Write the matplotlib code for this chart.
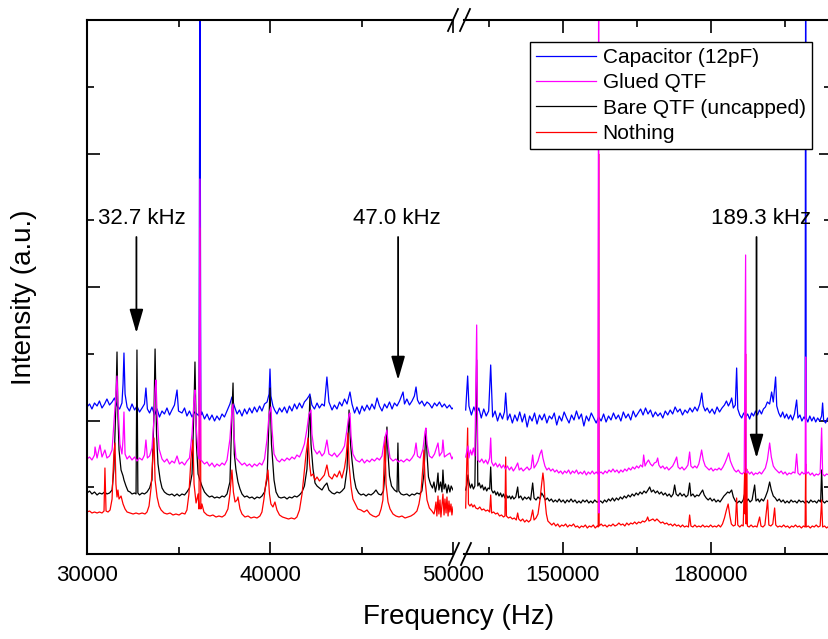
import numpy as np
import matplotlib
matplotlib.use("Agg")
import matplotlib.pyplot as plt
from matplotlib.ticker import MultipleLocator, StrMethodFormatter
from matplotlib.lines import Line2D

plt.rcParams['font.family'] = ['Liberation Sans', 'DejaVu Sans']

# spectra: (frequency in kHz, intensity in a.u.)
# left segment 30-50 kHz
cap_left = [(30.00,147),(30.14,150),(30.27,145),(30.41,151),(30.55,148),(30.68,153),(30.82,146),(30.96,150),
    (31.09,155),(31.23,149),(31.37,152),(31.50,156),(31.64,148),(31.78,145),(31.91,151),(31.97,170),(32.02,201),
    (32.08,160),(32.19,147),(32.32,143),(32.46,150),(32.60,144),(32.73,148),(32.87,142),(33.01,146),(33.14,150),
    (33.22,166),(33.30,145),(33.42,141),(33.55,147),(33.69,139),(33.83,145),(33.96,137),(34.10,143),(34.23,140),
    (34.37,146),(34.51,139),(34.64,144),(34.78,149),(34.92,164),(35.00,143),(35.19,141),(35.33,146),(35.46,138),
    (35.60,143),(35.74,137),(35.88,142),(36.01,140),(36.12,138),(36.17,600),(36.22,139),(36.28,142),(36.42,135),
    (36.56,140),(36.69,134),(36.83,139),(36.97,133),(37.10,138),(37.24,134),(37.38,140),(37.51,137),(37.65,143),
    (37.81,150),(37.92,157),(38.03,149),(38.20,140),(38.33,144),(38.47,138),(38.61,145),(38.74,140),(38.88,146),
    (39.02,141),(39.15,147),(39.29,142),(39.43,148),(39.56,143),(39.70,150),(39.84,152),(39.95,160),(40.00,185),
    (40.05,158),(40.16,148),(40.25,144),(40.38,140),(40.52,146),(40.65,142),(40.79,147),(40.93,141),(41.06,148),
    (41.20,143),(41.34,150),(41.47,145),(41.61,151),(41.75,146),(41.88,152),(42.02,155),(42.13,158),(42.18,160),
    (42.29,149),(42.43,145),(42.57,151),(42.70,146),(42.84,150),(42.97,148),(43.11,177),(43.22,152),(43.39,144),
    (43.52,149),(43.66,145),(43.80,152),(43.93,148),(44.07,155),(44.21,150),(44.32,158),(44.37,162),(44.48,150),
    (44.62,141),(44.75,147),(44.89,140),(45.03,148),(45.16,143),(45.30,149),(45.44,144),(45.57,150),(45.71,145),
    (45.85,156),(45.98,148),(46.12,143),(46.26,150),(46.39,146),(46.53,152),(46.67,145),(46.80,151),(46.94,148),
    (47.08,153),(47.27,162),(47.35,150),(47.48,155),(47.62,149),(47.76,153),(47.89,158),(47.98,167),(48.06,154),
    (48.17,150),(48.30,153),(48.44,148),(48.58,152),(48.71,150),(48.85,146),(48.99,151),(49.12,148),(49.26,152),
    (49.40,147),(49.53,150),(49.67,146),(49.81,149),(49.94,145),(50.00,146)]

glued_left = [(30.00,95),(30.14,97),(30.27,94),(30.41,99),(30.44,107),(30.55,96),(30.71,109),(30.82,97),(30.98,104),
    (31.09,96),(31.23,98),(31.37,104),(31.47,130),(31.58,160),(31.64,178),(31.69,150),(31.80,110),(31.91,100),
    (31.97,115),(32.02,142),(32.08,100),(32.19,95),(32.32,98),(32.46,94),(32.60,97),(32.73,93),(32.87,96),(33.01,94),
    (33.14,99),(33.22,114),(33.30,96),(33.42,98),(33.55,106),(33.66,135),(33.72,165),(33.77,174),(33.83,140),
    (33.94,105),(34.10,95),(34.23,92),(34.37,95),(34.51,90),(34.64,93),(34.78,91),(34.92,98),(35.05,90),(35.19,92),
    (35.33,89),(35.46,93),(35.60,96),(35.74,120),(35.85,155),(35.90,164),(35.96,130),(36.07,100),(36.12,95),
    (36.17,375),(36.22,94),(36.28,93),(36.42,90),(36.56,92),(36.69,88),(36.83,91),(36.97,87),(37.10,90),(37.24,88),
    (37.38,91),(37.51,89),(37.65,94),(37.81,115),(37.92,145),(37.98,150),(38.03,120),(38.14,96),(38.33,92),
    (38.47,89),(38.61,91),(38.74,88),(38.88,90),(39.02,87),(39.15,90),(39.29,88),(39.43,91),(39.56,89),(39.70,95),
    (39.84,115),(39.95,140),(40.05,147),(40.11,125),(40.22,100),(40.38,94),(40.52,92),(40.65,95),(40.79,93),
    (40.93,96),(41.06,94),(41.20,97),(41.34,95),(41.47,99),(41.61,97),(41.75,103),(41.88,110),(42.02,125),
    (42.13,140),(42.24,144),(42.29,120),(42.40,105),(42.57,100),(42.70,103),(42.84,98),(42.97,101),(43.11,114),
    (43.22,100),(43.39,98),(43.52,101),(43.66,97),(43.80,100),(43.93,103),(44.07,108),(44.21,125),(44.32,140),
    (44.37,141),(44.43,118),(44.53,100),(44.70,94),(44.89,92),(45.03,95),(45.16,91),(45.30,94),(45.44,92),
    (45.57,95),(45.71,93),(45.85,96),(45.98,94),(46.12,98),(46.26,115),(46.39,124),(46.45,110),(46.56,96),
    (46.72,93),(46.88,95),(47.02,92),(47.16,94),(47.30,92),(47.48,95),(47.62,93),(47.76,96),(47.89,100),
    (47.98,111),(48.06,98),(48.20,96),(48.36,105),(48.47,122),(48.52,126),(48.58,110),(48.71,98),(48.85,96),
    (48.99,100),(49.18,111),(49.26,98),(49.40,102),(49.45,114),(49.53,97),(49.67,99),(49.83,101),(49.94,95),
    (50.00,97)]

bare_left = [(30.00,61),(30.14,63),(30.27,60),(30.41,62),(30.55,59),(30.68,61),(30.82,60),(30.96,62),(31.09,60),
    (31.23,61),(31.37,64),(31.47,85),(31.58,150),(31.64,202),(31.69,140),(31.75,104),(31.86,84),(31.97,78),
    (32.02,74),(32.13,68),(32.24,63),(32.35,62),(32.46,60),(32.60,61),(32.68,60),(32.73,204),(32.78,61),(32.87,59),
    (33.01,61),(33.14,60),(33.28,62),(33.42,66),(33.55,74),(33.66,140),(33.72,205),(33.80,120),(33.88,90),
    (34.00,74),(34.10,66),(34.23,62),(34.37,60),(34.51,59),(34.64,60),(34.78,58),(34.92,60),(35.05,58),(35.19,60),
    (35.33,59),(35.46,62),(35.60,66),(35.74,80),(35.85,150),(35.90,192),(35.98,110),(36.07,80),(36.17,74),
    (36.28,68),(36.42,62),(36.56,59),(36.69,57),(36.83,58),(36.97,56),(37.10,57),(37.24,56),(37.38,58),(37.51,57),
    (37.65,60),(37.81,72),(37.92,140),(37.98,171),(38.05,100),(38.14,84),(38.25,72),(38.36,65),(38.47,60),
    (38.61,57),(38.74,58),(38.88,56),(39.02,57),(39.15,55),(39.29,57),(39.43,56),(39.56,58),(39.70,62),(39.84,75),
    (39.95,140),(40.00,166),(40.08,110),(40.22,74),(40.33,62),(40.47,57),(40.60,56),(40.79,57),(40.93,55),
    (41.06,57),(41.20,56),(41.34,58),(41.47,57),(41.61,59),(41.75,62),(41.88,68),(42.02,85),(42.13,130),
    (42.18,157),(42.24,110),(42.35,85),(42.46,71),(42.57,68),(42.70,66),(42.84,64),(42.97,68),(43.11,71),
    (43.22,64),(43.39,61),(43.52,60),(43.66,62),(43.80,61),(43.93,63),(44.07,66),(44.21,85),(44.32,144),
    (44.40,110),(44.48,94),(44.59,76),(44.70,66),(44.84,61),(44.97,59),(45.11,60),(45.25,58),(45.38,60),
    (45.52,59),(45.66,61),(45.79,64),(45.93,60),(46.07,59),(46.20,63),(46.28,80),(46.39,127),(46.45,100),
    (46.53,78),(46.64,68),(46.80,64),(46.94,62),(46.99,111),(47.04,63),(47.16,60),(47.30,59),(47.48,60),
    (47.62,58),(47.76,60),(47.89,59),(48.03,61),(48.17,60),(48.30,63),(48.41,80),(48.52,124),(48.58,100),
    (48.66,77),(48.77,70),(48.88,66),(48.96,72),(49.04,62),(49.12,70),(49.18,81),(49.23,64),(49.32,72),
    (49.40,62),(49.45,84),(49.51,65),(49.59,70),(49.67,61),(49.75,69),(49.83,62),(49.90,68),(50.00,64)]

nothing_left = [(30.00,42),(30.14,43),(30.27,41),(30.41,42),(30.55,41),(30.68,42),(30.82,41),(30.93,43),
    (30.98,86),(31.04,43),(31.15,42),(31.26,44),(31.37,55),(31.42,80),(31.47,100),(31.53,111),(31.58,70),
    (31.64,57),(31.69,64),(31.75,55),(31.86,58),(31.97,50),(32.08,45),(32.19,42),(32.35,41),(32.52,40),
    (32.68,41),(32.84,40),(33.01,41),(33.17,40),(33.28,42),(33.39,48),(33.50,66),(33.61,100),(33.66,116),
    (33.72,74),(33.83,57),(33.94,48),(34.05,44),(34.21,41),(34.37,40),(34.54,41),(34.70,39),(34.86,40),
    (35.03,39),(35.19,41),(35.35,40),(35.46,44),(35.57,60),(35.68,95),(35.79,114),(35.85,70),(35.96,51),
    (36.07,60),(36.12,45),(36.17,326),(36.22,45),(36.28,50),(36.39,42),(36.56,39),(36.72,38),(36.88,39),
    (37.05,37),(37.21,38),(37.38,37),(37.54,39),(37.70,45),(37.81,60),(37.92,84),(38.00,62),(38.09,52),
    (38.20,54),(38.25,57),(38.36,45),(38.47,40),(38.63,37),(38.80,38),(38.96,36),(39.13,37),(39.29,36),
    (39.45,38),(39.56,42),(39.67,55),(39.78,72),(39.89,84),(39.97,60),(40.05,50),(40.16,47),(40.27,52),
    (40.38,44),(40.52,39),(40.68,37),(40.85,36),(41.01,35),(41.17,36),(41.34,35),(41.47,37),(41.61,44),
    (41.75,60),(41.86,80),(41.97,100),(42.08,116),(42.16,90),(42.24,78),(42.35,80),(42.46,74),(42.57,77),
    (42.70,73),(42.84,76),(42.97,79),(43.11,89),(43.22,78),(43.39,75),(43.52,80),(43.66,77),(43.80,83),
    (43.93,76),(44.07,86),(44.16,97),(44.26,121),(44.32,90),(44.43,67),(44.53,55),(44.64,51),(44.80,45),
    (44.97,44),(45.14,42),(45.30,44),(45.46,40),(45.63,38),(45.79,37),(45.96,39),(46.07,45),(46.17,54),
    (46.23,90),(46.28,117),(46.34,70),(46.45,52),(46.56,45),(46.72,40),(46.88,38),(47.05,37),(47.21,38),
    (47.38,36),(47.54,37),(47.70,38),(47.87,40),(48.03,43),(48.14,50),(48.25,62),(48.36,88),(48.41,104),
    (48.47,75),(48.58,54),(48.71,46),(48.85,43),(48.96,40),(49.01,44),(49.07,52),(49.12,38),(49.18,58),
    (49.23,40),(49.29,54),(49.34,37),(49.40,50),(49.45,60),(49.51,39),(49.56,55),(49.62,41),(49.67,57),
    (49.73,38),(49.78,53),(49.83,42),(49.89,50),(49.94,39),(50.00,47)]

# right segment 130-204 kHz
cap_right = [(130.34,144),(130.74,178),(131.0,148),(131.5,139),(132.0,147),(132.5,140),(133.0,146),(133.5,136),
    (134.0,145),(134.5,138),(135.0,143),(135.41,189),(135.8,137),(136.3,143),(136.8,133),(137.3,141),(137.8,135),
    (138.2,142),(138.45,161),(138.8,134),(139.3,140),(139.8,131),(140.3,139),(140.8,133),(141.3,142),(141.8,132),
    (142.3,140),(142.8,127),(143.3,138),(143.8,133),(144.3,141),(144.8,130),(145.3,139),(145.8,134),(146.3,140),
    (146.8,131),(147.3,138),(147.8,135),(148.3,141),(148.8,129),(149.3,138),(149.8,133),(150.3,142),(150.8,136),
    (151.3,131),(151.8,139),(152.3,134),(152.8,143),(153.3,135),(153.8,140),(154.3,128),(154.8,138),(155.3,133),
    (155.8,141),(156.3,136),(156.8,131),(157.3,137),(157.8,133),(158.3,140),(158.8,132),(159.3,138),(159.8,134),
    (160.3,141),(160.8,135),(161.3,139),(161.8,133),(162.3,142),(162.8,136),(163.3,140),(163.8,134),(164.3,143),
    (164.8,137),(165.3,141),(165.8,145),(166.3,139),(166.8,146),(167.3,140),(167.8,144),(168.3,137),(168.8,142),
    (169.3,138),(169.8,141),(170.3,136),(170.8,143),(171.3,139),(171.8,144),(172.3,140),(172.8,147),(173.3,142),
    (173.8,145),(174.3,139),(174.8,144),(175.3,141),(175.8,146),(176.3,142),(176.8,147),(177.3,143),(177.8,150),
    (178.2,161),(178.5,148),(178.9,143),(179.3,146),(179.8,141),(180.3,145),(180.8,140),(181.3,147),(181.8,142),
    (182.3,146),(182.8,149),(183.2,153),(183.6,148),(184.0,152),(184.26,156),(184.6,146),(185.0,149),(185.27,186),
    (185.5,145),(185.9,139),(186.3,136),(186.7,141),(187.1,137),(187.5,140),(187.9,135),(188.3,141),(188.7,138),
    (189.1,143),(189.5,139),(189.9,144),(190.3,140),(190.7,145),(191.1,147),(191.5,152),(191.96,150),(192.36,162),
    (192.7,152),(193.17,177),(193.4,148),(193.8,141),(194.2,137),(194.6,142),(195.0,136),(195.4,140),(195.8,135),
    (196.2,139),(196.6,134),(197.0,140),(197.43,154),(197.7,136),(198.1,139),(198.5,133),(198.9,137),(199.15,135),
    (199.26,600),(199.37,136),(199.7,132),(200.1,138),(200.5,133),(200.9,137),(201.3,132),(201.7,136),(202.1,133),
    (202.5,138),(202.70,151),(202.9,134),(203.3,131),(203.7,136),(204.0,133)]

glued_right = [(130.34,97),(130.6,103),(130.8,108),(131.0,96),(131.3,104),(131.6,99),(131.9,106),(132.2,98),
    (132.57,229),(132.8,94),(133.2,92),(133.6,95),(134.0,91),(134.4,94),(134.8,90),(135.2,96),(135.41,116),
    (135.6,92),(136.0,88),(136.4,91),(136.8,87),(137.2,90),(137.6,86),(138.0,89),(138.4,85),(138.8,88),(139.2,84),
    (139.6,87),(140.0,83),(140.4,86),(140.88,91),(141.2,84),(141.6,86),(142.0,83),(142.4,85),(142.8,87),(143.2,84),
    (143.6,86),(143.92,99),(144.2,86),(144.6,89),(145.0,93),(145.4,100),(145.74,104),(146.0,96),(146.4,88),
    (146.8,84),(147.2,86),(147.6,83),(148.0,85),(148.4,82),(148.8,84),(149.2,81),(149.6,83),(150.0,80),(150.4,83),
    (150.8,81),(151.2,84),(151.6,80),(152.0,83),(152.4,81),(152.8,84),(153.2,80),(153.6,82),(154.0,80),(154.4,83),
    (154.8,79),(155.2,82),(155.6,80),(156.0,83),(156.4,80),(156.8,82),(157.15,80),(157.30,600),(157.35,41),
    (157.45,81),(157.8,82),(158.2,80),(158.6,83),(159.0,81),(159.4,84),(159.8,82),(160.2,85),(160.6,82),(161.0,84),
    (161.4,81),(161.8,84),(162.2,82),(162.6,85),(163.0,83),(163.4,86),(163.8,84),(164.2,87),(164.6,85),(165.0,88),
    (165.4,86),(165.8,89),(166.2,87),(166.42,99),(166.7,88),(167.0,91),(167.4,94),(167.8,90),(168.2,88),(168.6,91),
    (169.0,92),(169.26,96),(169.5,89),(169.9,86),(170.3,88),(170.7,85),(171.1,87),(171.5,84),(171.9,86),(172.3,88),
    (172.7,92),(173.11,97),(173.4,87),(173.8,85),(174.2,87),(174.6,84),(175.0,86),(175.4,89),(175.74,102),
    (176.0,88),(176.4,86),(176.8,88),(177.2,86),(177.6,90),(177.9,97),(178.17,104),(178.5,94),(178.9,88),
    (179.3,86),(179.7,84),(180.1,86),(180.5,83),(180.9,85),(181.3,84),(181.7,86),(182.1,84),(182.5,87),(182.9,91),
    (183.3,96),(183.65,101),(184.0,93),(184.4,88),(184.8,84),(185.2,82),(185.6,84),(186.0,81),(186.4,80),
    (186.8,82),(187.09,299),(187.2,81),(187.5,83),(187.9,80),(188.3,82),(188.7,79),(189.1,81),(189.5,80),
    (189.9,82),(190.3,80),(190.7,83),(191.1,86),(191.5,94),(191.96,111),(192.3,97),(192.7,88),(193.1,85),
    (193.5,83),(193.9,81),(194.3,83),(194.7,80),(195.1,82),(195.5,79),(195.9,81),(196.3,80),(196.7,82),(197.1,81),
    (197.43,100),(197.7,81),(198.1,79),(198.5,82),(198.9,80),(199.15,81),(199.26,197),(199.37,80),(199.8,82),
    (200.2,79),(200.6,81),(201.0,78),(201.4,80),(201.8,79),(202.2,81),(202.50,126),(202.7,80),(203.1,78),
    (203.5,80),(204.0,79)]

bare_right = [(130.34,64),(130.6,70),(130.8,79),(131.0,72),(131.3,66),(131.6,70),(131.9,65),(132.2,68),
    (132.57,194),(132.8,68),(133.1,71),(133.4,66),(133.7,69),(134.0,64),(134.3,67),(134.6,63),(134.9,66),
    (135.2,65),(135.41,87),(135.6,64),(135.9,61),(136.2,63),(136.5,59),(136.8,62),(137.1,58),(137.4,61),
    (137.7,57),(138.0,60),(138.3,56),(138.6,59),(138.9,56),(139.2,58),(139.5,55),(139.8,58),(140.1,55),
    (140.5,57),(140.88,67),(141.1,56),(141.5,58),(141.9,54),(142.3,57),(142.7,55),(143.1,57),(143.5,54),
    (143.92,71),(144.2,56),(144.6,54),(145.0,57),(145.4,55),(145.74,61),(146.1,58),(146.5,54),(146.9,56),
    (147.3,53),(147.7,55),(148.1,52),(148.5,54),(148.9,52),(149.3,55),(149.7,52),(150.1,54),(150.5,51),
    (150.9,54),(151.3,52),(151.7,55),(152.1,52),(152.5,54),(152.9,51),(153.3,53),(153.7,51),(154.1,54),
    (154.5,52),(154.9,54),(155.3,51),(155.7,53),(156.1,51),(156.5,54),(156.9,52),(157.3,52),(157.7,53),
    (158.1,51),(158.5,54),(158.9,52),(159.3,55),(159.7,53),(160.1,56),(160.5,53),(160.9,56),(161.3,54),
    (161.7,57),(162.1,55),(162.5,58),(162.9,56),(163.3,59),(163.7,57),(164.1,60),(164.5,58),(164.9,61),
    (165.3,59),(165.7,62),(166.1,60),(166.5,63),(166.9,61),(167.3,64),(167.64,67),(168.0,62),(168.4,64),
    (168.8,61),(169.2,63),(169.6,60),(170.0,62),(170.4,59),(170.8,61),(171.2,58),(171.6,60),(172.0,57),
    (172.4,60),(172.70,69),(173.0,60),(173.4,58),(173.8,61),(174.2,58),(174.6,60),(175.0,57),(175.4,59),
    (175.74,71),(176.0,58),(176.4,60),(176.8,57),(177.2,59),(177.6,58),(178.0,61),(178.38,64),(178.7,59),
    (179.1,56),(179.5,54),(179.9,56),(180.3,53),(180.7,55),(181.1,52),(181.5,54),(181.9,52),(182.3,55),
    (182.7,58),(183.1,60),(183.45,62),(183.8,61),(184.26,64),(184.6,57),(185.0,53),(185.4,51),(185.8,53),
    (186.2,51),(186.6,54),(186.89,60),(187.2,52),(187.6,55),(188.0,52),(188.4,54),(188.92,69),(189.2,53),
    (189.6,55),(189.9,52),(190.3,55),(190.7,53),(191.1,57),(191.55,63),(191.96,72),(192.3,64),(192.7,58),
    (193.1,56),(193.5,53),(193.9,55),(194.3,52),(194.7,54),(195.1,51),(195.5,53),(195.9,51),(196.3,54),
    (196.7,52),(197.1,53),(197.5,51),(197.9,54),(198.3,52),(198.7,53),(199.1,51),(199.5,53),(199.9,51),
    (200.3,54),(200.7,52),(201.1,53),(201.5,51),(201.9,54),(202.3,52),(202.50,84),(202.7,53),(203.1,51),
    (203.5,53),(204.0,52)]

nothing_right = [(130.34,46),(130.74,126),(130.9,50),(131.2,48),(131.5,50),(131.8,47),(132.1,49),(132.4,46),
    (132.8,45),(133.2,47),(133.6,44),(134.0,45),(134.4,43),(134.8,44),(135.2,42),(135.41,59),(135.6,41),
    (136.0,42),(136.4,40),(136.8,41),(137.2,38),(137.6,39),(138.0,37),(138.3,38),(138.45,97),(138.6,38),
    (139.0,36),(139.4,37),(139.8,35),(140.2,36),(140.6,34),(140.88,41),(141.1,35),(141.5,33),(141.9,35),
    (142.3,32),(142.7,34),(143.1,32),(143.5,34),(143.92,44),(144.2,34),(144.6,36),(145.0,40),(145.4,54),
    (145.74,70),(146.0,81),(146.2,72),(146.4,55),(146.7,40),(147.0,33),(147.4,31),(147.8,29),(148.2,31),
    (148.6,28),(149.0,30),(149.4,27),(149.8,29),(150.2,28),(150.6,30),(151.0,27),(151.4,29),(151.8,28),
    (152.2,30),(152.6,27),(153.0,28),(153.4,26),(153.8,28),(154.2,27),(154.6,29),(155.0,26),(155.4,28),
    (155.8,27),(156.2,29),(156.6,26),(157.0,28),(157.2,27),(157.30,400),(157.4,28),(157.8,30),(158.2,28),
    (158.6,29),(159.0,27),(159.4,29),(159.8,28),(160.2,30),(160.6,28),(161.0,29),(161.4,31),(161.8,29),
    (162.2,30),(162.6,28),(163.0,31),(163.4,29),(163.8,31),(164.2,30),(164.6,32),(165.0,30),(165.4,32),
    (165.8,31),(166.2,33),(166.6,32),(167.0,34),(167.23,37),(167.5,33),(167.9,34),(168.3,35),(168.7,33),
    (169.1,35),(169.5,33),(169.9,31),(170.3,32),(170.7,30),(171.1,31),(171.5,29),(171.9,30),(172.3,28),
    (172.7,30),(173.1,28),(173.5,29),(173.9,27),(174.3,29),(174.7,27),(175.1,28),(175.5,27),(175.74,39),
    (176.0,28),(176.4,27),(176.8,29),(177.2,27),(177.6,28),(178.0,27),(178.4,29),(178.8,27),(179.2,28),
    (179.6,27),(180.0,29),(180.4,27),(180.8,28),(181.2,27),(181.6,29),(182.0,27),(182.4,30),(182.8,36),
    (183.2,44),(183.55,50),(183.9,38),(184.2,30),(184.6,28),(185.0,29),(185.27,56),(185.5,29),(185.9,27),
    (186.3,29),(186.6,28),(186.89,81),(187.0,40),(187.09,200),(187.2,30),(187.30,85),(187.45,28),(187.8,27),
    (188.2,29),(188.6,27),(189.0,28),(189.4,27),(189.93,37),(190.2,28),(190.6,27),(191.0,29),(191.55,54),
    (191.8,29),(192.2,28),(192.6,30),(192.97,46),(193.2,29),(193.6,27),(194.0,28),(194.4,27),(194.8,29),
    (195.2,27),(195.6,28),(196.0,26),(196.4,28),(196.8,27),(197.2,29),(197.6,27),(198.0,28),(198.4,26),
    (198.8,28),(199.15,27),(199.26,90),(199.37,27),(199.8,28),(200.2,26),(200.6,28),(201.0,27),(201.4,29),
    (201.8,27),(202.2,28),(202.50,54),(202.7,27),(203.1,28),(203.5,26),(204.0,28)]

labels = ['Capacitor (12pF)', 'Glued QTF', 'Bare QTF (uncapped)', 'Nothing']
colors = ['#0000ff', '#ff00ff', '#000000', '#ff0000']
left_data = [cap_left, glued_left, bare_left, nothing_left]
right_data = [cap_right, glued_right, bare_right, nothing_right]
draw_order = [0, 2, 3, 1]   # blue, black, red, then magenta on top

# arrows: (label, frequency kHz, arrow tip, arrow tail, text x in kHz, text y, panel)
notes = [('32.7 kHz', 32.7, 221, 317, 33.0, 336, 'left'),
         ('47.0 kHz', 47.0, 174, 317, 46.95, 336, 'left'),
         ('189.3 kHz', 189.3, 96, 317, 190.25, 336, 'right')]

W, H = 829, 639
fig = plt.figure(figsize=(W / 100, H / 100), dpi=100)
ax_l = fig.add_axes([87 / W, 85 / H, 366 / W, 534 / H])
ax_r = fig.add_axes([464 / W, 85 / H, 367.5 / W, 534 / H])

lines = {}
for ax, data in ((ax_l, left_data), (ax_r, right_data)):
    for i in draw_order:
        arr = np.array(data[i], dtype=float)
        ln, = ax.plot(arr[:, 0] * 1000, arr[:, 1], color=colors[i], lw=0.9,
                      label=labels[i])
        lines[i] = ln

ax_l.set_xlim(30000, 50000)
ax_r.set_xlim(130000, 204500)
ax_l.xaxis.set_major_locator(MultipleLocator(10000))
ax_l.xaxis.set_minor_locator(MultipleLocator(5000))
ax_r.xaxis.set_major_locator(MultipleLocator(30000))
ax_r.xaxis.set_minor_locator(MultipleLocator(15000))

for ax in (ax_l, ax_r):
    ax.set_ylim(0, 534)
    ax.yaxis.set_major_locator(MultipleLocator(133.5))
    ax.yaxis.set_minor_locator(MultipleLocator(66.75))
    ax.xaxis.set_major_formatter(StrMethodFormatter('{x:.0f}'))
    ax.tick_params(which='both', direction='in', top=True, bottom=True,
                   labelleft=False, labelright=False, width=1.2, labelsize=16, pad=8)
    ax.tick_params(which='major', length=9)
    ax.tick_params(which='minor', length=5)
    for sp in ax.spines.values():
        sp.set_linewidth(1.5)

ax_l.spines['right'].set_visible(False)
ax_l.tick_params(which='both', left=True, right=False)
ax_r.spines['left'].set_visible(False)
ax_r.tick_params(which='both', left=False, right=True)

# arrows and their labels
for text, f, tip, tail, tx, ty, side in notes:
    ax = ax_l if side == 'left' else ax_r
    ax.annotate('', xy=(f * 1000, tip), xytext=(f * 1000, tail),
                arrowprops=dict(arrowstyle='-|>,head_length=1.45,head_width=0.42',
                                mutation_scale=10, lw=1.3, color='black',
                                shrinkA=0, shrinkB=0))
    ax.text(tx * 1000, ty, text, ha='center', va='center', fontsize=16)

# axis break marks
def px(x, y):
    return x / W, 1 - y / H

for cx, cy in ((453, 20), (465, 20), (454, 554), (466, 554)):
    x0, y0 = px(cx - 5, cy + 11)
    x1, y1 = px(cx + 5, cy - 11)
    fig.add_artist(Line2D([x0, x1], [y0, y1], transform=fig.transFigure,
                          color='black', lw=1.3))

fig.text(*px(459, 617), 'Frequency (Hz)', ha='center', va='center', fontsize=20)
fig.text(*px(24, 297), 'Intensity (a.u.)', ha='center', va='center',
         rotation=90, fontsize=20)

leg = ax_r.legend([lines[i] for i in range(4)], labels, loc='upper right',
                  bbox_to_anchor=px(812, 42), bbox_transform=fig.transFigure,
                  fontsize=15, frameon=True, fancybox=False, edgecolor='black',
                  framealpha=1, handlelength=2.9, handletextpad=0.3,
                  labelspacing=0.3, borderpad=0.3, borderaxespad=0)
leg.get_frame().set_linewidth(1.0)
leg.set_zorder(10)

fig.savefig('out.png', dpi=100)
